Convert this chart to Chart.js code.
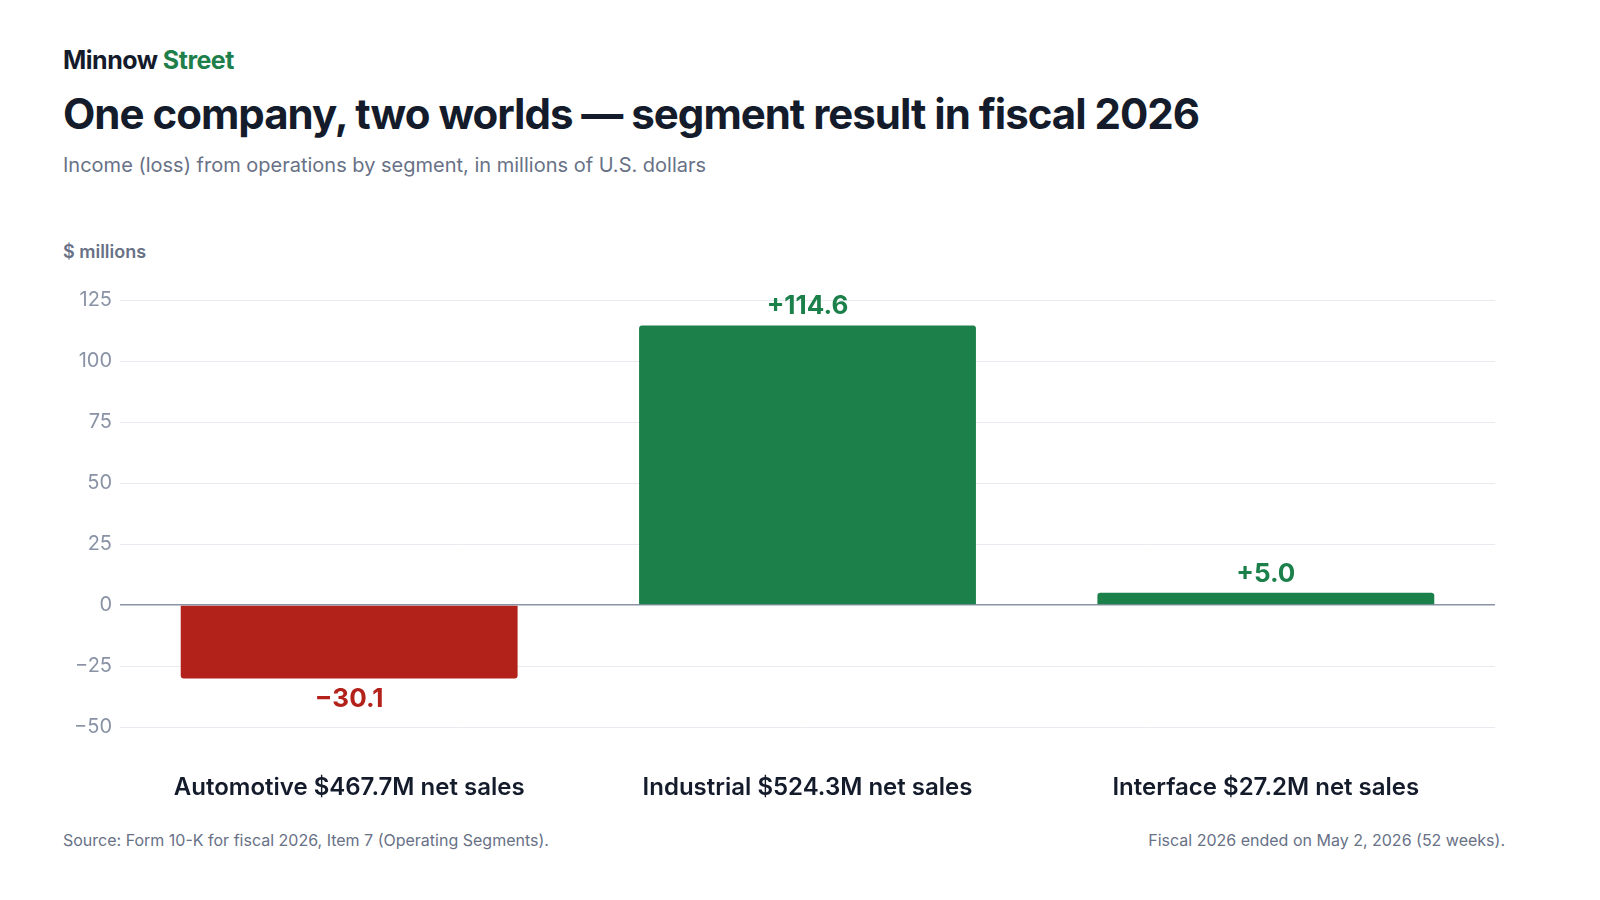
<!DOCTYPE html>
<html><head><meta charset="utf-8">
<script src="https://cdn.jsdelivr.net/npm/chart.js@4"></script>
<style>
body{margin:0;width:1600px;height:900px;background:#fff;font-family:Inter,sans-serif;position:relative;overflow:hidden}
.t{position:absolute;left:63px;white-space:nowrap}
#brand{top:45px;font-size:25px;font-weight:700;color:#141b2b;letter-spacing:-0.5px}
#brand span{color:#1e7f4b}
#title{top:88px;font-size:42px;font-weight:700;color:#141b2b;letter-spacing:-1px}
#sub{top:153px;font-size:20px;color:#687186}
#unit{top:241px;font-size:18px;font-weight:600;color:#687186}
.f{position:absolute;top:830px;font-size:16px;color:#687186}
#wrap{position:absolute;left:0;top:280px;width:1600px;height:540px}
</style></head><body>
<div class="t" id="brand">Minnow <span>Street</span></div>
<div class="t" id="title">One company, two worlds — segment result in fiscal 2026</div>
<div class="t" id="sub">Income (loss) from operations by segment, in millions of U.S. dollars</div>
<div class="t" id="unit">$ millions</div>
<div class="f" style="left:63px">Source: Form 10-K for fiscal 2026, Item 7 (Operating Segments).</div>
<div class="f" style="right:95px">Fiscal 2026 ended on May 2, 2026 (52 weeks).</div>
<div id="wrap"><canvas id="c"></canvas></div>
<script>
const categories=["Automotive $467.7M net sales","Industrial $524.3M net sales","Interface $27.2M net sales"];
const values=[-30.1,114.6,5.0];
const valueLabels=["−30.1","+114.6","+5.0"];
const RED="#b3221a",GREEN="#1c804b";
const labelPlugin={id:"lbl",afterDatasetsDraw(ch){
  const ctx=ch.ctx,meta=ch.getDatasetMeta(0);
  ctx.save();ctx.font="700 26px Inter";ctx.textAlign="center";
  meta.data.forEach((b,i)=>{
    const v=values[i];ctx.fillStyle=v<0?RED:GREEN;
    if(v<0){ctx.textBaseline="top";ctx.fillText(valueLabels[i],b.x,b.y+8);}
    else{ctx.textBaseline="bottom";ctx.fillText(valueLabels[i],b.x,b.y-6);}
  });ctx.restore();}};
new Chart(document.getElementById("c"),{type:"bar",
 data:{labels:categories,datasets:[{data:values,backgroundColor:values.map(v=>v<0?RED:GREEN),borderRadius:3,borderSkipped:"start",barPercentage:0.735,categoryPercentage:1}]},
 options:{responsive:true,maintainAspectRatio:false,animation:false,
  layout:{padding:{left:0,right:105,top:17,bottom:0}},
  plugins:{legend:{display:false},tooltip:{enabled:false}},
  scales:{
   y:{min:-50,max:125,afterFit(s){s.width=120;},border:{display:false},
      ticks:{stepSize:25,color:"#8a93a6",font:{family:"Inter",size:20},padding:8,callback:v=>String(v).replace("-","−")},
      grid:{drawTicks:false,color:c=>c.tick&&c.tick.value===0?"#8a93a6":"#e8ebef",lineWidth:c=>c.tick&&c.tick.value===0?1.5:1}},
   x:{afterFit(s){s.height=93;},border:{display:false},grid:{display:false},
      ticks:{color:"#141b2b",font:{family:"Inter",size:24,weight:"600"},padding:38,maxRotation:0}}
  }},plugins:[labelPlugin]});
</script></body></html>
